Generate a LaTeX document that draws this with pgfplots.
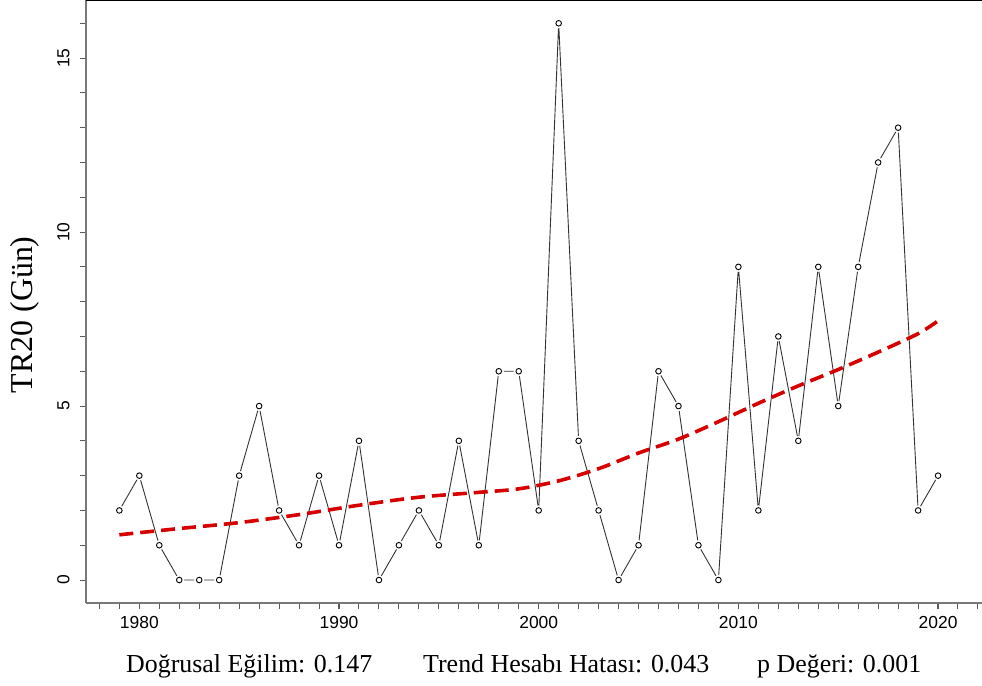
\documentclass[border=0pt]{standalone}
\usepackage{pgfplots}
\usepackage{pgfplotstable}
\pgfplotsset{compat=1.18}
\usepackage{fontspec}
\setmainfont{Liberation Serif}
\newfontfamily\arial{Liberation Sans}

\definecolor{trendred}{RGB}{215,0,0}
\definecolor{axgray}{RGB}{120,120,120}

\pgfplotstableread{
year val
1979 2
1980 3
1981 1
1982 0
1983 0
1984 0
1985 3
1986 5
1987 2
1988 1
1989 3
1990 1
1991 4
1992 0
1993 1
1994 2
1995 1
1996 4
1997 1
1998 6
1999 6
2000 2
2001 16
2002 4
2003 2
2004 0
2005 1
2006 6
2007 5
2008 1
2009 0
2010 9
2011 2
2012 7
2013 4
2014 9
2015 5
2016 9
2017 12
2018 13
2019 2
2020 3
}\tronly

\pgfplotstableread{
year fit
1979 1.30
1982 1.48
1985 1.65
1988 1.88
1991 2.15
1994 2.38
1997 2.52
1999 2.62
2001 2.85
2003 3.20
2005 3.65
2007 4.05
2009 4.55
2011 5.08
2013 5.58
2015 6.05
2017 6.55
2019 7.08
2020 7.45
}\trend

\begin{document}
\begin{tikzpicture}[x=1bp,y=1bp]
\useasboundingbox (-86,-83) rectangle (896,603);
\begin{axis}[
  at={(0,0)}, anchor=south west,
  width=896bp, height=603bp, scale only axis,
  xmin=1977.33, xmax=2022.2,
  ymin=-0.66, ymax=16.67,
  axis x line*=bottom, axis y line*=left,
  axis line style={draw=axgray, line width=1.6bp},
  xtick={1980,1990,2000,2010,2020},
  xticklabels={1980,1990,2000,2010,2020},
  minor xtick={1978,...,2022},
  ytick={0,5,10,15},
  yticklabels={0,5,10,15},
  minor ytick={0,...,16},
  tick align=outside,
  major tick length=6bp, minor tick length=6bp,
  tick style={draw=black!65, line width=1bp},
  xticklabel style={font=\arial\fontsize{17.5}{17.5}\selectfont, yshift=-4bp},
  yticklabel style={font=\arial\fontsize{17.5}{17.5}\selectfont, xshift=-7bp, rotate=90, anchor=south},
  ylabel={TR20 (Gün)},
  ylabel style={at={(axis description cs:-0.068,0.478)}, anchor=center, font=\fontsize{32}{32}\selectfont},
]
\addplot[black!80, line width=0.9bp] table[x=year, y=val] {\tronly};
\addplot[only marks, mark=*, mark size=4.8bp, mark options={fill=white, draw=white}] table[x=year, y=val] {\tronly};
\addplot[only marks, mark=o, mark size=2.8bp, mark options={draw=black, fill=white, line width=0.9bp}] table[x=year, y=val] {\tronly};
\addplot[trendred, line width=3.6bp, dash pattern=on 14bp off 7bp, smooth] table[x=year, y=fit] {\trend};
\end{axis}
\draw[black, line width=1.6bp] (0,603) -- (896,603);
\node[anchor=base west, inner sep=0pt, font=\fontsize{26}{26}\selectfont] at (40,-70) {Doğrusal Eğilim: 0.147};
\node[anchor=base west, inner sep=0pt, font=\fontsize{26}{26}\selectfont] at (337,-70) {Trend Hesabı Hatası: 0.043};
\node[anchor=base west, inner sep=0pt, font=\fontsize{26}{26}\selectfont] at (671,-70) {p Değeri: 0.001};
\end{tikzpicture}
\end{document}
